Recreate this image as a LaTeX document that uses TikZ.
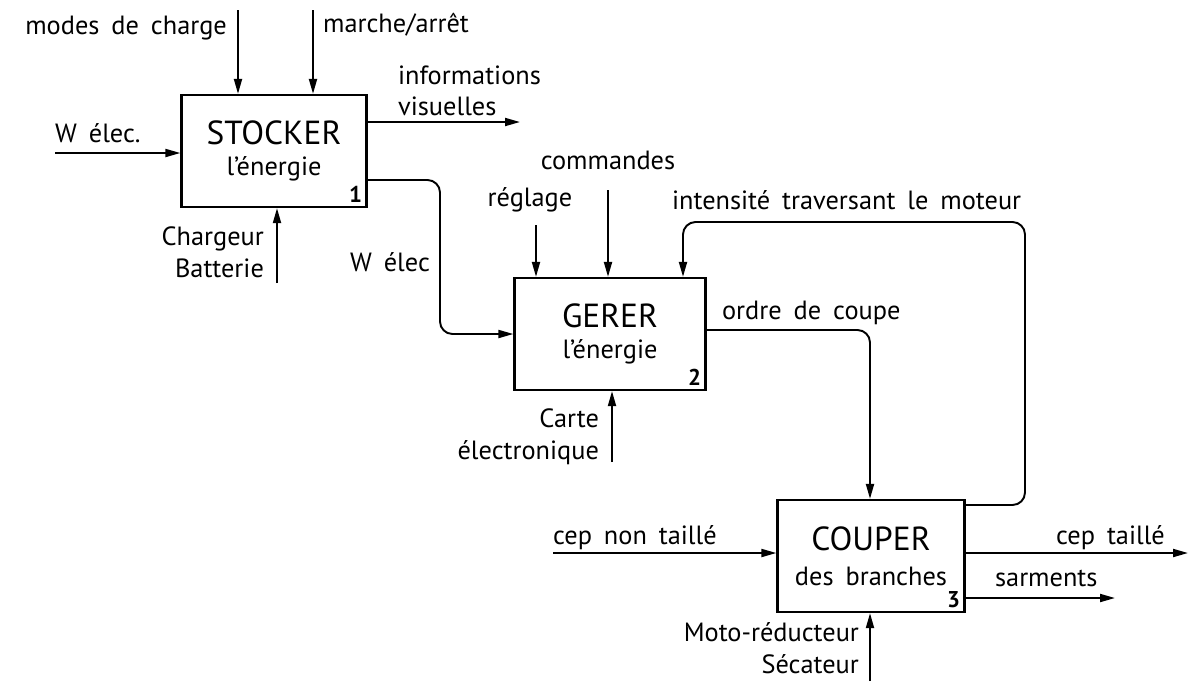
\documentclass[tikz,border=0pt]{standalone}
\usepackage{fontspec}
\setmainfont{PT Sans}[WordSpace=1.7]
\usetikzlibrary{arrows.meta, positioning, calc}

\begin{document}
\begin{tikzpicture}[x=0.02cm, y=-0.02cm,
    fn/.style={rectangle, draw, line width=1.3pt, minimum width=3.7cm,
               minimum height=2.24cm, align=center, inner sep=0pt},
    lbl/.style={font=\fontsize{15}{18}\selectfont, inner sep=1pt},
    num/.style={font=\bfseries\fontsize{13}{14}\selectfont, inner sep=3pt},
    arr/.style={-{Triangle[length=3mm, width=1.6mm]}, line width=1.1pt,
                rounded corners=2.5mm},
  ]
  \useasboundingbox (0,0) rectangle (1191,681);

  % the three functions
  \node[fn] (stocker) at (274,151)
    {{\fontsize{19}{21}\selectfont STOCKER}\\[6pt]{\fontsize{15}{17}\selectfont l’énergie}};
  \node[num, anchor=south east] (n1) at (stocker.south east) {1};
  \node[fn, minimum width=3.82cm] (gerer) at (610,334)
    {{\fontsize{19}{21}\selectfont GERER}\\[6pt]{\fontsize{15}{17}\selectfont l’énergie}};
  \node[num, anchor=south east] (n2) at (gerer.south east) {2};
  \node[fn, minimum width=3.74cm] (couper) at (871,556)
    {{\fontsize{19}{21}\selectfont COUPER}\\[8pt]{\fontsize{15}{17}\selectfont des branches}};
  \node[num, anchor=south east] (n3) at (couper.south east) {3};

  % STOCKER
  \coordinate (modes) at (238,10);
  \coordinate (marche) at (313,10);
  \coordinate (welecin) at (55,153);
  \coordinate (infos) at (520,122);
  \coordinate (charg) at (277,283);
  \node[lbl, anchor=east] (modestxt) at (229,28) {modes de charge};
  \node[lbl, anchor=west] (marchetxt) at (321,25) {marche/arrêt};
  \node[lbl, anchor=west] (welectxt) at (53,133) {W élec.};
  \node[lbl, anchor=west, align=left] (infostxt) at (396,91) {informations\\visuelles};
  \node[lbl, anchor=east, align=right] (chargtxt) at (266,252) {Chargeur\\Batterie};
  \draw[arr] (modes) -- (modes |- stocker.north);
  \draw[arr] (marche) -- (marche |- stocker.north);
  \draw[arr] (welecin) -- (welecin -| stocker.west);
  \draw[arr] (infos -| stocker.east) -- (infos);
  \draw[arr] (charg) -- (charg |- stocker.south);

  % GERER
  \coordinate (welec) at (440,180);
  \coordinate (cmd) at (608,190);
  \coordinate (regl) at (536,225);
  \coordinate (carte) at (612,462);
  \coordinate (ordre) at (870,330);
  \coordinate (intens) at (1025,222);
  \node[lbl, anchor=east] (welec2txt) at (432,262) {W élec};
  \node[lbl] (cmdtxt) at (608,160) {commandes};
  \node[lbl] (regltxt) at (530,200) {réglage};
  \node[lbl, anchor=east, align=right] (cartetxt) at (601,437) {Carte\\électronique};
  \node[lbl, anchor=west] (ordretxt) at (720,313) {ordre de coupe};
  \node[lbl, anchor=west] (intenstxt) at (670,200) {intensité traversant le moteur};
  \draw[arr] (welec -| stocker.east) -- (welec) -- (welec |- gerer.west) -- (gerer.west);
  \draw[arr] (cmd) -- (cmd |- gerer.north);
  \draw[arr] (regl) -- (regl |- gerer.north);
  \draw[arr] (carte) -- (carte |- gerer.south);
  \draw[arr] (gerer.east |- ordre) -- (ordre) -- (ordre |- couper.north);
  \draw[arr] (couper.east |- 0,505) -- (intens |- 0,505) -- (intens) -- (683,222)
    -- (683,222 |- gerer.north);

  % COUPER
  \coordinate (cepin) at (553,553);
  \coordinate (cepout) at (1188,553);
  \coordinate (sarm) at (1115,598);
  \coordinate (moto) at (870,681);
  \node[lbl, anchor=west] (cepintxt) at (551,538) {cep non taillé};
  \node[lbl, anchor=east] (cepouttxt) at (1167,538) {cep taillé};
  \node[lbl, anchor=west] (sarmtxt) at (993,578) {sarments};
  \node[lbl, anchor=east, align=right] (mototxt) at (861,648) {Moto-réducteur\\Sécateur};
  \draw[arr] (cepin) -- (cepin -| couper.west);
  \draw[arr] (cepout -| couper.east) -- (cepout);
  \draw[arr] (sarm -| couper.east) -- (sarm);
  \draw[arr] (moto) -- (moto |- couper.south);
\end{tikzpicture}
\end{document}
